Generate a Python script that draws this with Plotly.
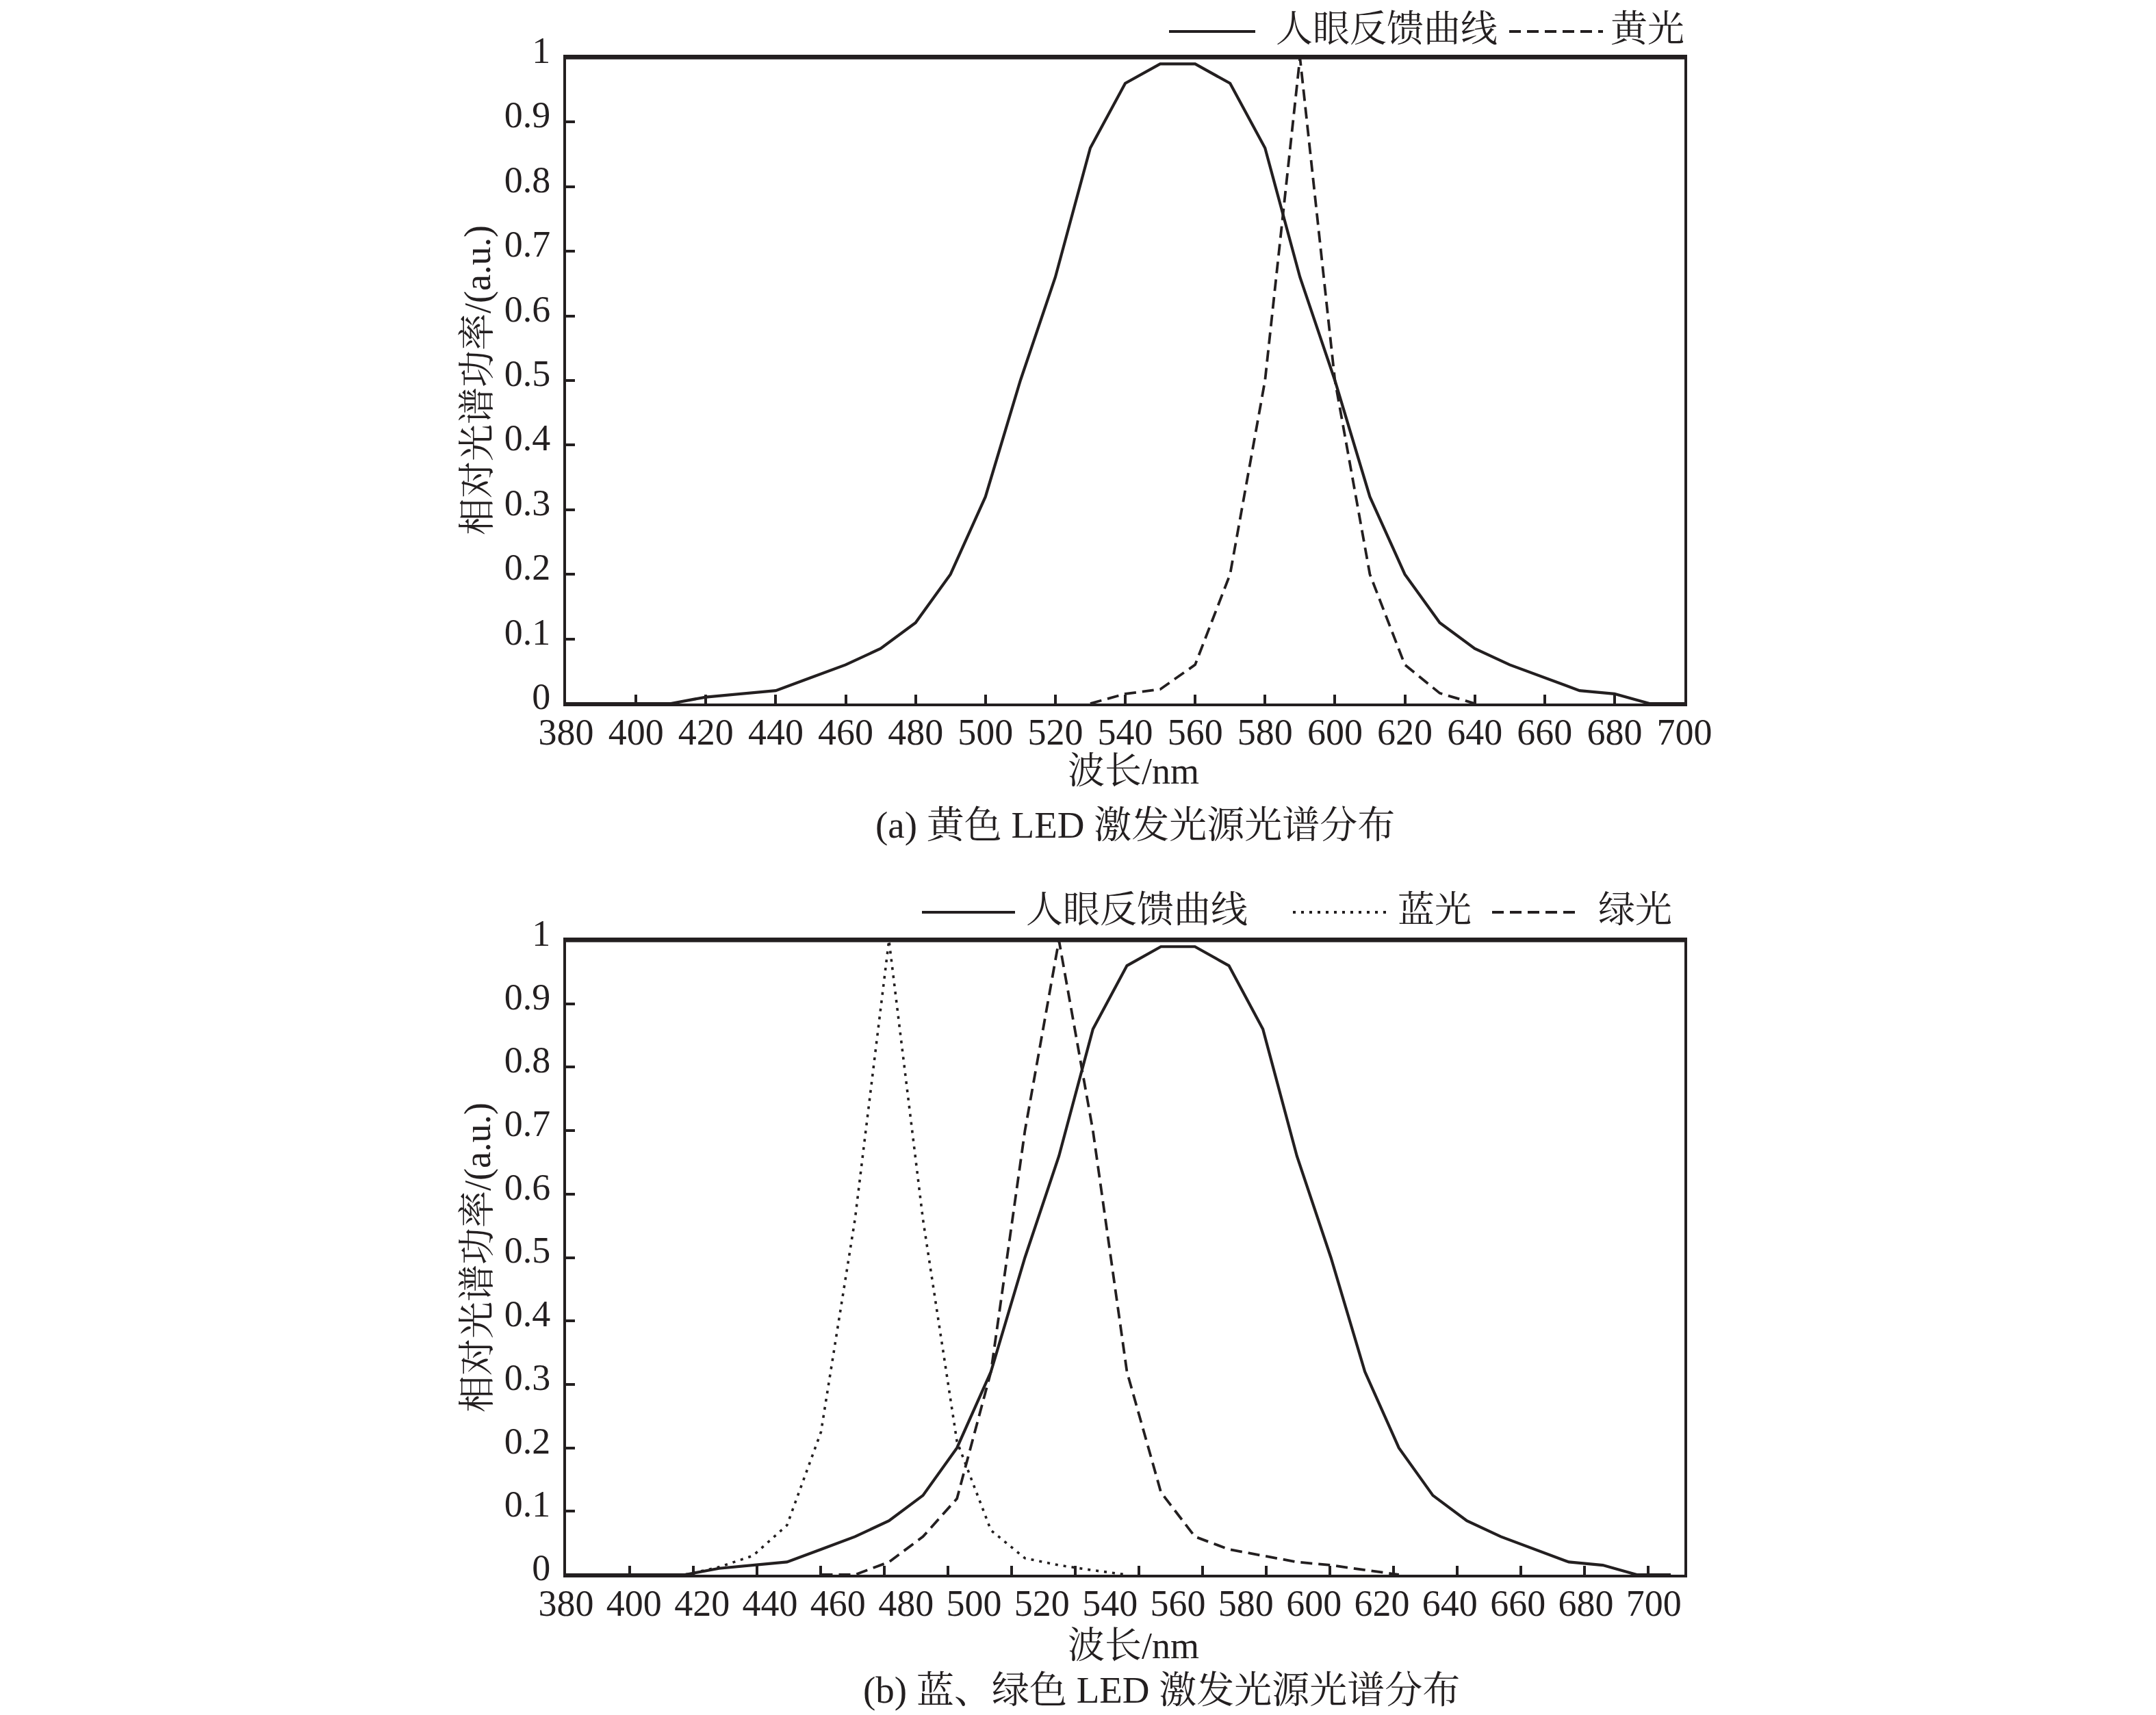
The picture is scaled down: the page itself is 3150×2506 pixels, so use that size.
import plotly.graph_objects as go

W, H = 3150, 2506
INK = "#231f20"
SERIF = "Liberation Serif, Noto Serif CJK SC, Noto Sans CJK SC, serif"

# ---- data: panel (a) ----
wl_a = [380, 390, 400, 410, 420, 430, 440, 450, 460, 470, 480, 490, 500, 510, 520, 530,
        540, 550, 560, 570, 580, 590, 600, 610, 620, 630, 640, 650, 660, 670, 680, 690, 700]
eye_a = [0, 0, 0, 0, 0.01, 0.015, 0.02, 0.04, 0.06, 0.085, 0.125, 0.2, 0.32, 0.5, 0.66, 0.86,
         0.96, 0.99, 0.99, 0.96, 0.86, 0.66, 0.5, 0.32, 0.2, 0.125, 0.085, 0.06, 0.04, 0.02, 0.015, 0, 0]
wl_yellow = [530, 540, 550, 560, 570, 580, 590, 600, 610, 620, 630, 640]
yellow = [0, 0.015, 0.022, 0.06, 0.2, 0.5, 1.0, 0.5, 0.2, 0.06, 0.016, 0]

# ---- data: panel (b) ----
wl_b = [380, 385, 395, 405, 415, 425, 435, 445, 455, 465, 475, 485, 495, 505, 515, 525, 535,
        545, 555, 565, 575, 585, 595, 605, 615, 625, 635, 645, 655, 665, 675, 685, 695, 705]
eye_b = [0, 0, 0, 0, 0, 0.01, 0.015, 0.02, 0.04, 0.06, 0.085, 0.125, 0.2, 0.32, 0.5, 0.66, 0.86,
         0.96, 0.99, 0.99, 0.96, 0.86, 0.66, 0.5, 0.32, 0.2, 0.125, 0.085, 0.06, 0.04, 0.02, 0.015, 0, 0]
wl_blue = [415, 425, 435, 445, 455, 465, 475, 485, 495, 505, 515, 525, 535, 545]
blue = [0, 0.012, 0.03, 0.078, 0.225, 0.56, 1.0, 0.56, 0.21, 0.07, 0.026, 0.015, 0.007, 0]
wl_green = [455, 465, 475, 485, 495, 505, 515, 525, 535, 545, 555, 565, 575, 585, 595, 605, 615, 625]
green = [0, 0, 0.02, 0.06, 0.12, 0.32, 0.7, 1.0, 0.7, 0.32, 0.13, 0.06, 0.04, 0.03, 0.02, 0.015, 0.008, 0]

x_ticks = list(range(380, 701, 20))
y_ticks = [0, 0.1, 0.2, 0.3, 0.4, 0.5, 0.6, 0.7, 0.8, 0.9, 1]
y_ticktext = ["0", "0.1", "0.2", "0.3", "0.4", "0.5", "0.6", "0.7", "0.8", "0.9", "1"]
# panel (b) has its tick marks on a slightly different spacing than its labels
b_mark_ticks = list(range(400, 721, 20))


def px_x(x):
    return x / W


def px_y(y):
    return 1 - y / H


DASH = "17px,9px"
DOT = "4px,8px"

fig = go.Figure()

fig.add_trace(go.Scatter(x=wl_a, y=eye_a, mode="lines", line=dict(color=INK, width=4.2),
                         xaxis="x", yaxis="y", showlegend=False))
fig.add_trace(go.Scatter(x=wl_yellow, y=yellow, mode="lines", line=dict(color=INK, width=3.8, dash=DASH),
                         xaxis="x", yaxis="y", showlegend=False))

fig.add_trace(go.Scatter(x=wl_b, y=eye_b, mode="lines", line=dict(color=INK, width=4.2),
                         xaxis="x2", yaxis="y2", showlegend=False))
fig.add_trace(go.Scatter(x=wl_blue, y=blue, mode="lines", line=dict(color=INK, width=3.6, dash=DOT),
                         xaxis="x2", yaxis="y2", showlegend=False))
fig.add_trace(go.Scatter(x=wl_green, y=green, mode="lines", line=dict(color=INK, width=3.8, dash=DASH),
                         xaxis="x2", yaxis="y2", showlegend=False))
# empty trace so the tick-mark overlay axis is drawn
fig.add_trace(go.Scatter(x=[None], y=[None], xaxis="x3", yaxis="y2", showlegend=False, hoverinfo="skip"))

tickfont = dict(family=SERIF, size=54, color=INK)
axis_common = dict(showline=True, linecolor=INK, linewidth=3.8, mirror=True, showgrid=False,
                   zeroline=False, tickfont=tickfont, tickcolor=INK, tickwidth=3.5, ticklen=13,
                   automargin=False)

dom_x = [px_x(819), px_x(2453)]
dom_ya = [px_y(1020), px_y(76)]
dom_yb = [px_y(2293), px_y(1366)]

y_extra = dict(ticklabelstandoff=8, ticklabelshift=-11)

fig.update_layout(
    template="none",
    width=W, height=H,
    margin=dict(l=0, r=0, t=0, b=0, pad=0),
    paper_bgcolor="white", plot_bgcolor="white",
    xaxis=dict(axis_common, domain=dom_x, anchor="y", range=[380, 700], tickvals=x_ticks,
               ticks="inside", ticklabelstandoff=-9),
    yaxis=dict(axis_common, **y_extra, domain=dom_ya, anchor="x", range=[0, 1], tickvals=y_ticks,
               ticktext=y_ticktext, ticks="inside"),
    xaxis2=dict(axis_common, domain=dom_x, anchor="y2", range=[380, 709], tickvals=x_ticks,
                ticks="", ticklabelstandoff=-9),
    yaxis2=dict(axis_common, **y_extra, domain=dom_yb, anchor="x2", range=[0, 1], tickvals=y_ticks,
                ticktext=y_ticktext, ticks="inside"),
    xaxis3=dict(overlaying="x2", anchor="y2", side="bottom", range=[380, 731.3],
                tickvals=b_mark_ticks, ticks="inside", ticklen=13, tickwidth=3.5, tickcolor=INK,
                showticklabels=False, showline=False, showgrid=False, zeroline=False,
                automargin=False),
)

shapes = []
# heavier top frame line on both panels
for xr, yr in (("x domain", "y"), ("x2 domain", "y2")):
    shapes.append(dict(type="line", xref=xr, yref=yr, x0=0, x1=1, y0=1, y1=1,
                       line=dict(color=INK, width=5.5)))

annotations = []


def legend_item(x0, x1, y, dash, label, label_right, size=54):
    shapes.append(dict(type="line", xref="paper", yref="paper", x0=px_x(x0), x1=px_x(x1),
                       y0=px_y(y + 3), y1=px_y(y + 3), line=dict(color=INK, width=3.8, dash=dash)))
    annotations.append(dict(xref="paper", yref="paper", x=px_x(label_right), y=px_y(y),
                            xanchor="right", yanchor="middle", text=label, showarrow=False,
                            font=dict(family=SERIF, size=size, color=INK)))


legend_item(1700, 1826, 35, "solid", "人眼反馈曲线", 2182)
legend_item(2197, 2334, 35, DASH, "黄光", 2455)

legend_item(1339, 1475, 1322, "solid", "人眼反馈曲线", 1817)
legend_item(1881, 2025, 1322, DOT, "蓝光", 2144)
legend_item(2172, 2300, 1322, DASH, "绿光", 2437)


def text(x, y, s, size=54, angle=0):
    annotations.append(dict(xref="paper", yref="paper", x=px_x(x), y=px_y(y), xanchor="center",
                            yanchor="middle", text=s, showarrow=False, textangle=angle,
                            font=dict(family=SERIF, size=size, color=INK)))


text(690, 548, "相对光谱功率/(a.u.)", angle=-90)
text(1648, 1119, "波长/nm")
text(1650, 1197, "(a) 黄色 LED 激发光源光谱分布", size=55)

text(690, 1830, "相对光谱功率/(a.u.)", angle=-90)
text(1648, 2397, "波长/nm")
text(1689, 2461, "(b) 蓝、绿色 LED 激发光源光谱分布", size=55)

fig.update_layout(shapes=shapes, annotations=annotations)

fig.write_html("out.html")
